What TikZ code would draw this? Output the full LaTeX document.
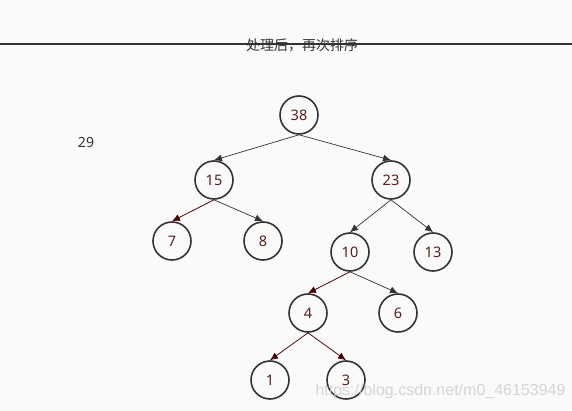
\documentclass[tikz,border=0pt]{standalone}
\usepackage{fontspec}
\setmainfont{Noto Sans}
\newfontfamily\cjk{Noto Sans CJK SC}
\newfontfamily\wmfont{Liberation Sans}
\usetikzlibrary{arrows.meta}
\definecolor{bg}{HTML}{FAFAFA}
\definecolor{ink}{HTML}{333333}
\definecolor{numred}{HTML}{5A1E1E}
\definecolor{edgered}{HTML}{4A0000}
\begin{document}
\begin{tikzpicture}[x=1pt,y=-1pt,
  treenode/.style={circle,draw=ink,line width=1.6pt,minimum size=38pt,inner sep=0pt,
    text=numred,font=\fontsize{14.5pt}{16pt}\selectfont},
  link/.style={draw=ink,line width=0.7pt,-{Latex[length=8pt,width=7pt]}},
  redlink/.style={link,draw=edgered,fill=edgered}]
  \fill[bg] (0,0) rectangle (572,411);
  \useasboundingbox (0,0) rectangle (572,411);
  % title rule and caption
  \draw[ink,line width=1.6pt] (0,44) -- (572,44);
  \node[font=\cjk\fontsize{14pt}{16pt}\selectfont,text=ink] (title) at (302,45) {处理后，再次排序};
  \node[font=\fontsize{14pt}{16pt}\selectfont,text=ink] (extra) at (86,143) {29};
  % tree nodes
  \node[treenode] (n38) at (299,115) {38};
  \node[treenode] (n15) at (214,180) {15};
  \node[treenode] (n23) at (391,180) {23};
  \node[treenode] (n7)  at (172,241) {7};
  \node[treenode] (n8)  at (263,241) {8};
  \node[treenode] (n10) at (350,252) {10};
  \node[treenode] (n13) at (433,252) {13};
  \node[treenode] (n4)  at (308,313) {4};
  \node[treenode] (n6)  at (398,313) {6};
  \node[treenode] (n1)  at (270,380) {1};
  \node[treenode] (n3)  at (346,380) {3};
  % connectors: parent bottom to child top
  \draw[link] (n38.south) -- (n15.north);
  \draw[link] (n38.south) -- (n23.north);
  \draw[redlink] (n15.south) -- (n7.north);
  \draw[link] (n15.south) -- (n8.north);
  \draw[link] (n23.south) -- (n10.north);
  \draw[link] (n23.south) -- (n13.north);
  \draw[redlink] (n10.south) -- (n4.north);
  \draw[link] (n10.south) -- (n6.north);
  \draw[redlink] (n4.south) -- (n1.north);
  \draw[redlink] (n4.south) -- (n3.north);
  % source mark
  \node[font=\wmfont\fontsize{16pt}{18pt}\selectfont,text=black!20,opacity=0.8,anchor=west] (mark) at (312,391) {https://blog.csdn.net/m0\_46153949};
\end{tikzpicture}
\end{document}
